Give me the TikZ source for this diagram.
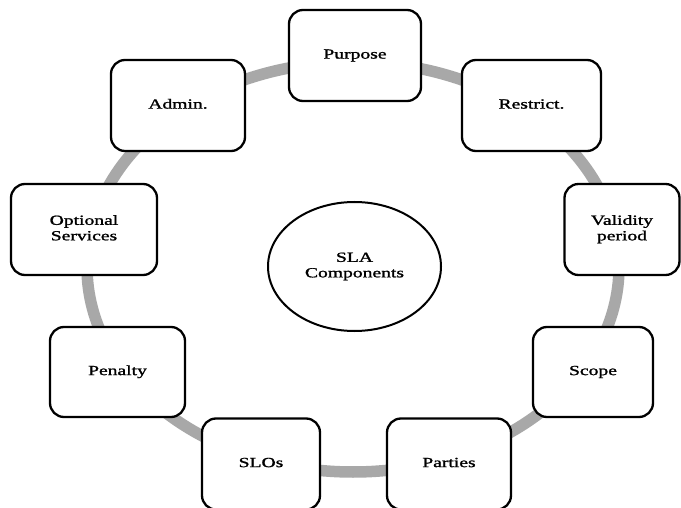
\documentclass[tikz,border=0pt]{standalone}
\usepackage{fontspec}
\setmainfont{Liberation Serif}
\newfontfamily\semibold{Liberation Serif}[FakeBold=1.2]
\usepackage{graphicx}
\usetikzlibrary{shapes.geometric}
\newcommand{\wtext}[1]{\scalebox{1.4}[1]{\semibold\begin{tabular}{@{}c@{}}#1\end{tabular}}}
\begin{document}
\begin{tikzpicture}[x=1pt,y=-1pt,
  comp/.style={draw=black, line width=2.3pt, rounded corners=14pt, fill=white,
    inner sep=0pt, font=\fontsize{14}{15.5}\selectfont},
  hub/.style={draw=black, line width=2pt, ellipse, fill=white, inner sep=0pt,
    minimum width=173pt, minimum height=129pt, font=\fontsize{14}{15.5}\selectfont},
  ring/.style={draw=ringgray, line width=11.5pt}
]
\definecolor{ringgray}{HTML}{A8A8A8}
\useasboundingbox (0,0) rectangle (681,508);
\fill[white] (0,0) rectangle (681,508);
\draw[ring] (353,267) ellipse [x radius=266, y radius=205];
\node[comp, minimum width=132pt, minimum height=91pt] (purpose) at (355,55.5) {\wtext{Purpose}};
\node[comp, minimum width=134pt, minimum height=91pt] (admin) at (178,105.5) {\wtext{Admin.}};
\node[comp, minimum width=139pt, minimum height=91pt] (restrict) at (531.5,105.5) {\wtext{Restrict.}};
\node[comp, minimum width=146pt, minimum height=91pt] (optional) at (84,229.5) {\wtext{Optional\\Services}};
\node[comp, minimum width=115pt, minimum height=91pt] (validity) at (622,229.5) {\wtext{Validity\\period}};
\node[comp, minimum width=135pt, minimum height=90pt] (penalty) at (117.5,372) {\wtext{Penalty}};
\node[comp, minimum width=120pt, minimum height=90pt] (scope) at (593,372) {\wtext{Scope}};
\node[comp, minimum width=118pt, minimum height=91pt] (slos) at (261,464) {\wtext{SLOs}};
\node[comp, minimum width=124pt, minimum height=91pt] (parties) at (449,464) {\wtext{Parties}};
\node[hub] (sla) at (354.5,266.5) {\wtext{SLA\\Components}};
\end{tikzpicture}
\end{document}
